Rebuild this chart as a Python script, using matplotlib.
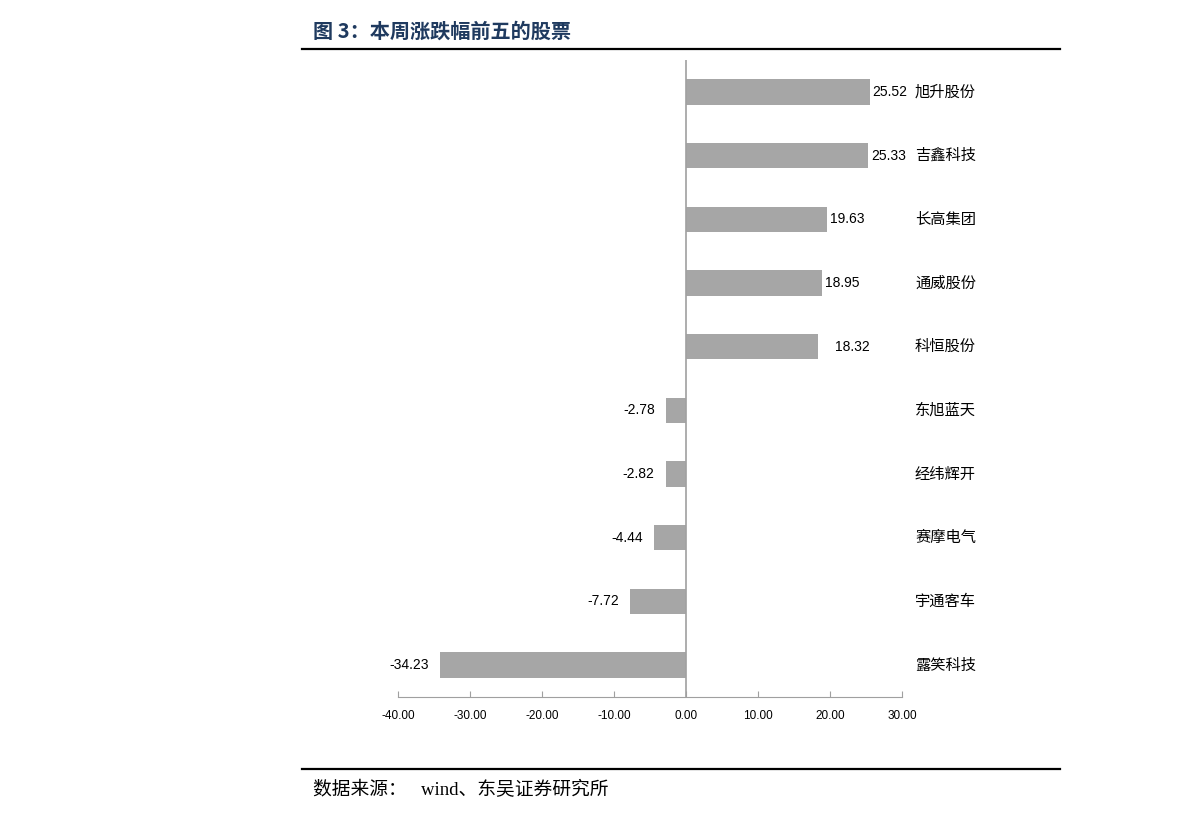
import matplotlib
matplotlib.use("Agg")
import matplotlib.pyplot as plt
from matplotlib.lines import Line2D

plt.rcParams['font.family'] = ['Liberation Sans', 'Noto Sans CJK SC', 'DejaVu Sans']

stocks = ['旭升股份', '吉鑫科技', '长高集团', '通威股份', '科恒股份',
          '东旭蓝天', '经纬辉开', '赛摩电气', '宇通客车', '露笑科技']
changes = [25.52, 25.33, 19.63, 18.95, 18.32, -2.78, -2.82, -4.44, -7.72, -34.23]
xticks = [-40, -30, -20, -10, 0, 10, 20, 30]

W, H = 1191, 821
fig = plt.figure(figsize=(W / 100, H / 100), dpi=100)
ax = fig.add_axes([398 / W, 1 - 697 / H, 504 / W, 637 / H])

pos = list(range(len(stocks)))
ax.barh(pos, changes, height=0.4, color='#a6a6a6', zorder=2)
ax.set_ylim(len(stocks) - 0.5, -0.5)
ax.set_xlim(-40, 30)

for s in ['top', 'right', 'left']:
    ax.spines[s].set_visible(False)
ax.spines['bottom'].set_color('#a0a0a0')
ax.axvline(0, color='#a0a0a0', lw=1.2, zorder=3)

ax.set_yticks([])
ax.set_xticks(xticks)
ax.set_xticklabels([f'{v:.2f}' for v in xticks], fontsize=8.5)
ax.tick_params(axis='x', direction='in', length=4, color='#a0a0a0', pad=9)

for i, (name, v) in enumerate(zip(stocks, changes)):
    if v >= 0:
        nudge = 17 if i == 4 else 3
        ax.annotate(f'{v:.2f}', (v, i), xytext=(nudge, 0), textcoords='offset pixels',
                    ha='left', va='center', fontsize=10)
    else:
        ax.annotate(f'{v:.2f}', (v, i), xytext=(-11, 0), textcoords='offset pixels',
                    ha='right', va='center', fontsize=10)
    ax.text((915 - 398) / 504, i, name, transform=ax.get_yaxis_transform(),
            ha='left', va='center', fontsize=11, family=['Noto Sans CJK SC'])

fig.text(313 / W, 1 - 31 / H, '图 3：本周涨跌幅前五的股票', fontsize=14.5, fontweight='bold',
         color='#1f3a5f', ha='left', va='center', family=['Noto Sans CJK SC'])
fig.add_artist(Line2D([302 / W, 1060 / W], [1 - 49 / H] * 2, color='black', lw=1.6,
                      transform=fig.transFigure))
fig.add_artist(Line2D([302 / W, 1060 / W], [1 - 769 / H] * 2, color='black', lw=1.6,
                      transform=fig.transFigure))
fig.text(313 / W, 1 - 790 / H, '数据来源：   wind、东吴证券研究所', fontsize=13.5,
         ha='left', va='center', family=['Liberation Serif', 'Noto Sans CJK SC'])

fig.savefig('out.png', dpi=100)
